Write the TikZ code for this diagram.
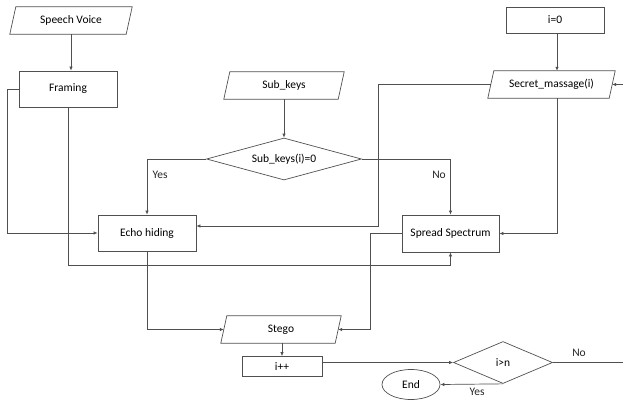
\documentclass[tikz,border=0pt]{standalone}
\usepackage{fontspec}
\setmainfont{Carlito}
\usetikzlibrary{shapes.geometric,arrows.meta,calc}
\definecolor{ln}{HTML}{505050}
\tikzset{
  box/.style={draw=ln,line width=0.7pt,rectangle,minimum width=#1,minimum height=36,inner sep=0pt},
  parabox/.style={rectangle,minimum width=#1,minimum height=27,inner sep=0pt},
  dia/.style={draw=ln,line width=0.7pt,diamond,inner sep=0pt},
  arr/.style={draw=ln,line width=0.7pt,-{Latex[length=4pt,width=3.5pt]}},
  con/.style={draw=ln,line width=0.7pt},
  lbl/.style={inner sep=0pt,text=black!85}
}
\newcommand{\parashape}[1]{%
  \draw[ln,line width=0.7pt] ([xshift=3]#1.north west) -- ([xshift=3]#1.north east) -- ([xshift=-3]#1.south east) -- ([xshift=-3]#1.south west) -- cycle;}
\begin{document}
\begin{tikzpicture}[x=1pt,y=-1pt,font=\fontsize{11.5}{13}\selectfont]
\useasboundingbox (0,0) rectangle (623,401);
\clip (0,0) rectangle (623,401);
% nodes
\node[parabox=116] (sv) at (71,20.5) {Speech Voice};
\parashape{sv}
\node[box=98] (fr) at (68,89) {Framing};
\node[parabox=114] (sk) at (284,85.5) {Sub\_keys};
\parashape{sk}
\node[dia,minimum width=155,minimum height=42] (d1) at (284,159) {};
\node at (d1) {Sub\_keys(i)=0};
\node[box=98,minimum height=26] (i0) at (555,20) {i=0};
\node[parabox=121] (sm) at (551.5,84.5) {Secret\_massage(i)};
\parashape{sm}
\node[box=98] (eh) at (147,233) {Echo hiding};
\node[box=97,minimum height=37] (ss) at (450.5,233.5) {Spread Spectrum};
\node[parabox=114] (st) at (281,329.5) {Stego};
\parashape{st}
\node[box=80,minimum height=20] (ip) at (282,366.5) {i++};
\node[dia,minimum width=99,minimum height=42] (d2) at (503,362.5) {};
\node at (d2) {i>n};
\node[draw=ln,line width=0.7pt,ellipse,minimum width=58,minimum height=30,inner sep=0pt] (en) at (411,384.5) {End};
% coordinates
\coordinate (cl) at (7,233);
\coordinate (cb) at (68,265);
\coordinate (cs) at (378,226);
\coordinate (css) at (370,233.5);
\coordinate (cr1) at (640,362.5);
\coordinate (cr2) at (640,84.5);
% connectors
\draw[arr] (sv.south -| 71,0) -- (fr.north -| 71,0);
\draw[arr] (fr.west) -| (cl) -- (eh.west);
\draw[arr] (fr.south) |- (cb -| ss.south) -- (ss.south);
\draw[arr] (sk.south) -- (d1.north);
\draw[arr] (d1.west) -| (eh.north);
\draw[arr] (d1.east) -| (ss.north);
\draw[arr] (i0.south -| 557,0) -- (sm.north -| 557,0);
\draw[arr] (sm.west) -| (cs) -- (eh.east |- cs);
\draw[arr] (sm.south -| 557,0) |- (ss.east);
\draw[arr] (ss.west) -- (css) |- (st.east);
\draw[arr] (eh.south) |- (st.west);
\draw[arr] (st.south -| ip.north) -- (ip.north);
\draw[arr] (ip.east |- d2.west) -- (d2.west);
\draw[arr] (d2.east) -- (cr1) -- (cr2) -- (sm.east);
\draw[arr] (d2.south) -- (en.east);
% labels
\node[lbl] at (160,175) {Yes};
\node[lbl] at (439,175) {No};
\node[lbl] at (579,353) {No};
\node[lbl] at (477,392) {Yes};
\end{tikzpicture}
\end{document}
